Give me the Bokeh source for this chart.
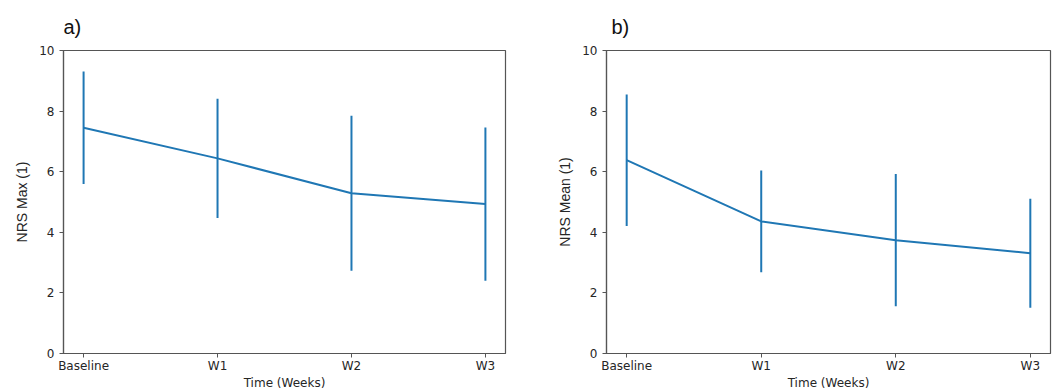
from bokeh.plotting import figure
from bokeh.layouts import row
from bokeh.models import Range1d, FixedTicker, ColumnDataSource
from bokeh.embed import file_html
from bokeh.resources import INLINE

# ---- data ----
categories = ["Baseline", "W1", "W2", "W3"]
nrs_max_mean = [7.45, 6.44, 5.29, 4.93]
nrs_max_sd = [1.86, 1.97, 2.56, 2.53]
nrs_mean_mean = [6.38, 4.36, 3.74, 3.31]
nrs_mean_sd = [2.17, 1.68, 2.18, 1.80]
y_ticks = [0, 2, 4, 6, 8, 10]
panel_titles = ["a)", "b)"]
y_labels = ["NRS Max (1)", "NRS Mean (1)"]
x_label = "Time (Weeks)"

BLUE = "#1f77b4"
FRAME = "#555555"
TEXT = "#262626"


def make_panel(title, ylabel, means, sds, width, bl, br):
    xs = list(range(len(categories)))
    src = ColumnDataSource(dict(
        x=xs,
        m=means,
        lo=[m - s for m, s in zip(means, sds)],
        hi=[m + s for m, s in zip(means, sds)],
    ))
    p = figure(width=width, height=392, output_backend="svg", toolbar_location=None,
               x_range=Range1d(-0.15, len(categories) - 1 + 0.15),
               y_range=Range1d(0, 10),
               min_border_left=bl, min_border_right=br,
               min_border_top=48, min_border_bottom=30)
    p.title.text = title
    p.title.text_font = "Liberation Sans"
    p.title.text_font_size = "20px"
    p.title.text_font_style = "normal"
    p.title.text_color = "#111111"
    p.title.align = "left"
    p.title.standoff = 26
    p.segment(x0="x", y0="lo", x1="x", y1="hi", source=src, line_color=BLUE, line_width=2)
    p.line(x="x", y="m", source=src, line_color=BLUE, line_width=2)

    p.grid.visible = False
    p.outline_line_color = FRAME
    p.outline_line_width = 1.2
    p.background_fill_color = "white"
    p.border_fill_color = "white"

    for ax in (p.xaxis[0], p.yaxis[0]):
        ax.axis_line_color = FRAME
        ax.axis_line_width = 1.2
        ax.major_tick_line_color = FRAME
        ax.major_tick_in = 0
        ax.major_tick_out = 4
        ax.minor_tick_line_color = None
        ax.major_label_text_font = "DejaVu Sans"
        ax.major_label_text_font_size = "12px"
        ax.major_label_text_color = TEXT
        ax.axis_label_text_font_style = "normal"
        ax.axis_label_text_color = TEXT

    p.xaxis.ticker = FixedTicker(ticks=xs)
    p.xaxis.major_label_overrides = {i: c for i, c in enumerate(categories)}
    p.xaxis.axis_label = x_label
    p.xaxis.axis_label_text_font = "DejaVu Sans"
    p.xaxis.axis_label_text_font_size = "12px"
    p.xaxis.major_label_standoff = 1
    p.xaxis.axis_label_standoff = 0

    p.yaxis.ticker = FixedTicker(ticks=y_ticks)
    p.yaxis.axis_label = ylabel
    p.yaxis.axis_label_text_font = "Liberation Sans"
    p.yaxis.axis_label_text_font_size = "14px"
    p.yaxis.major_label_standoff = 5
    p.yaxis.axis_label_standoff = 6
    return p


p1 = make_panel(panel_titles[0], y_labels[0], nrs_max_mean, nrs_max_sd, 548, 63, 43)
p2 = make_panel(panel_titles[1], y_labels[1], nrs_mean_mean, nrs_mean_sd, 516, 58, 14)
p2.title.offset = 5

layout = row(p1, p2)
open("out.html", "w").write(file_html(layout, INLINE))
